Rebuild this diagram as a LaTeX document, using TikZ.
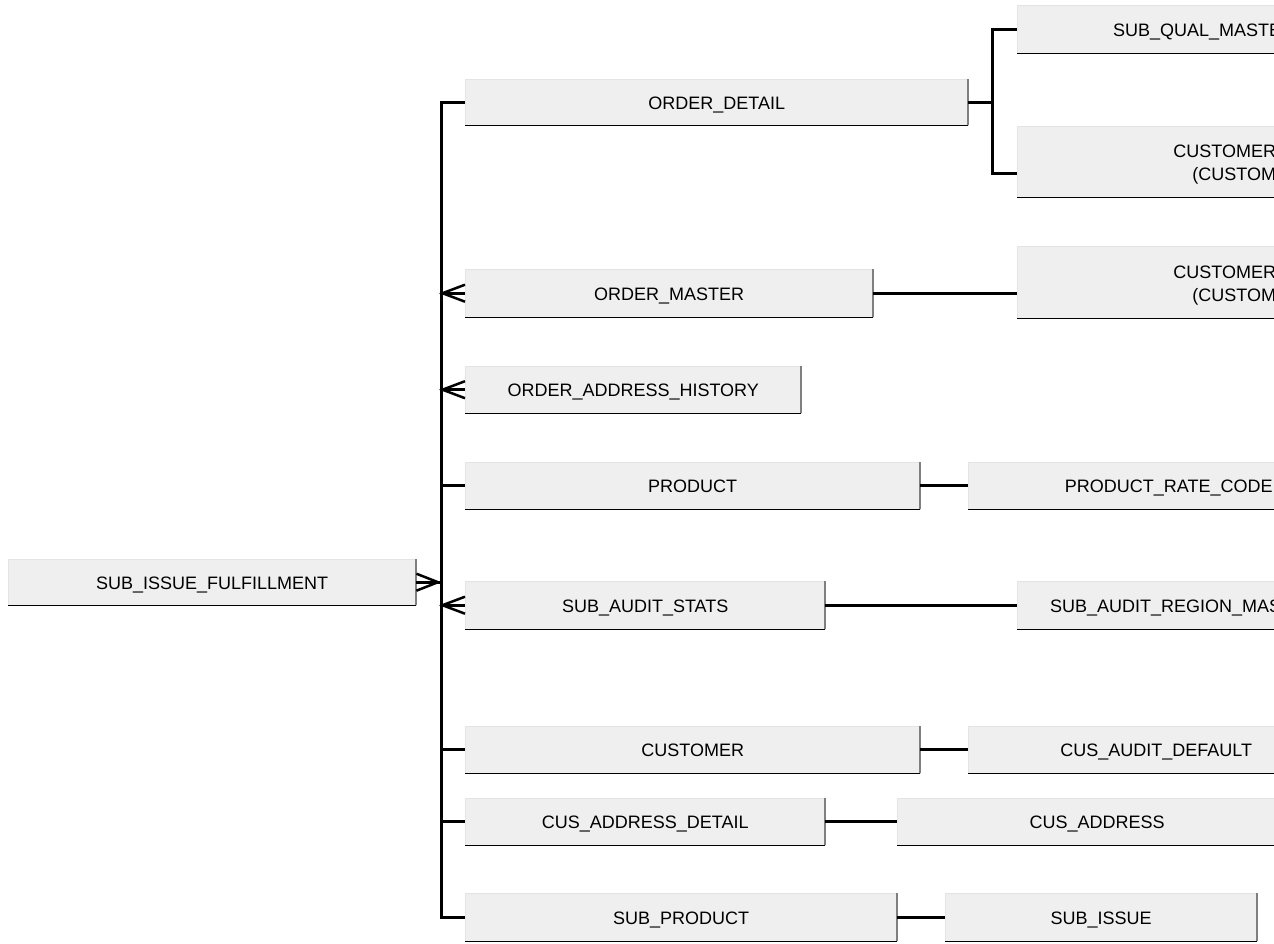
\documentclass[tikz,border=0pt]{standalone}
\usepackage{fontspec}
\newfontfamily\tblfont{Liberation Sans}
\usetikzlibrary{positioning}
\definecolor{tblfill}{HTML}{EFEFEF}
\definecolor{tbledge}{HTML}{E4E4E4}
\definecolor{tblshade}{HTML}{7F7F7F}
\begin{document}
\begin{tikzpicture}
  [x=1pt,y=-1pt,
  tblbase/.style={draw=tbledge, fill=tblfill, anchor=north west,
    inner sep=0pt, align=center,
    font=\tblfont\fontsize{18}{23}\selectfont,
    append after command={(\tikzlastnode.south west) edge[draw=black,
      line width=1.5pt] (\tikzlastnode.south east)
      (\tikzlastnode.south east) edge[draw=tblshade, line width=2pt]
      (\tikzlastnode.north east)}},
  tbl/.style={tblbase, text height=14.5pt, text depth=0.5pt},
  rel/.style={draw, line width=3pt, line join=miter},
  crow/.style={draw, line width=2.5pt, line join=miter}]
  \useasboundingbox (0,0) rectangle (1274,943);
  \clip (0,0) rectangle (1274,943);
  % left column
  \node [tbl, minimum width=408, minimum height=46] (sif) at (8,559) {SUB\_ISSUE\_FULFILLMENT};
  % middle column
  \node [tbl, minimum width=503, minimum height=46] (od) at (465,79) {ORDER\_DETAIL};
  \node [tbl, minimum width=408, minimum height=48] (om) at (465,269) {ORDER\_MASTER};
  \node [tbl, minimum width=336, minimum height=47] (oah) at (465,366) {ORDER\_ADDRESS\_HISTORY};
  \node [tbl, minimum width=455, minimum height=47] (pr) at (465,462) {PRODUCT};
  \node [tbl, minimum width=360, minimum height=48] (sas) at (465,581) {SUB\_AUDIT\_STATS};
  \node [tbl, minimum width=455, minimum height=47] (cu) at (465,726) {CUSTOMER};
  \node [tbl, minimum width=360, minimum height=47] (cad) at (465,798) {CUS\_ADDRESS\_DETAIL};
  \node [tbl, minimum width=432, minimum height=48] (sp) at (465,893) {SUB\_PRODUCT};
  % right column
  \node [tbl, minimum width=373, minimum height=48] (sqm) at (1017,5) {SUB\_QUAL\_MASTER};
  \node [tblbase, minimum width=446, minimum height=71, align=left] (cm1) at (1017,126)
  {\rule{0pt}{19pt}CUSTOMER\\\hspace*{19pt}(CUSTOMER)};
  \node [tblbase, minimum width=446, minimum height=72, align=left] (cm2) at (1017,246)
  {\rule{0pt}{19pt}CUSTOMER\\\hspace*{19pt}(CUSTOMER)};
  \node [tbl, minimum width=401, minimum height=47] (prc) at (968,462) {PRODUCT\_RATE\_CODE};
  \node [tbl, minimum width=333, minimum height=48] (sarm) at (1017,581) {SUB\_AUDIT\_REGION\_MASTER};
  \node [tbl, minimum width=376, minimum height=47] (cud) at (968,726) {CUS\_AUDIT\_DEFAULT};
  \node [tbl, minimum width=400, minimum height=47] (ca) at (897,798) {CUS\_ADDRESS};
  \node [tbl, minimum width=312, minimum height=48] (si) at (945,893) {SUB\_ISSUE};

  \coordinate (bus) at (441,0);
  \coordinate (bus2) at (992,0);
  \coordinate (cm1in) at ([yshift=-11.5pt]cm1.west);
  \begin{scope}[every path/.style=rel]
    \path (od.west) -- (od.west -| bus) -- (sp.west -| bus) -- (sp.west);
    \foreach \n in {om,oah,pr,sas,cu,cad}
    \path (\n.west -| bus) -- (\n.west);
    \path (sif.east) -- (sif.east -| bus);
    \path (od.east) -- (od.east -| bus2);
    \path (sqm.west) -- (sqm.west -| bus2) -- (cm1in -| bus2) -- (cm1in);
    \path (om.east) -- (om.east -| cm2.west);
    \path (pr.east) -- (prc.west);
    \path (sas.east) -- (sarm.west);
    \path (cu.east) -- (cud.west);
    \path (cad.east) -- (ca.west);
    \path (sp.east) -- (si.west);
  \end{scope}
  % crow's feet
  \foreach \n in {om,oah,sas}
  \path [crow] ([yshift=8.5pt]\n.west) -- ([xshift=1.5pt]\n.west -| bus)
  -- ([yshift=-8.5pt]\n.west);
  \path [crow] ([yshift=8.5pt]sif.east) -- ([xshift=-3pt]sif.east -| bus)
  -- ([yshift=-8.5pt]sif.east);
\end{tikzpicture}
\end{document}
